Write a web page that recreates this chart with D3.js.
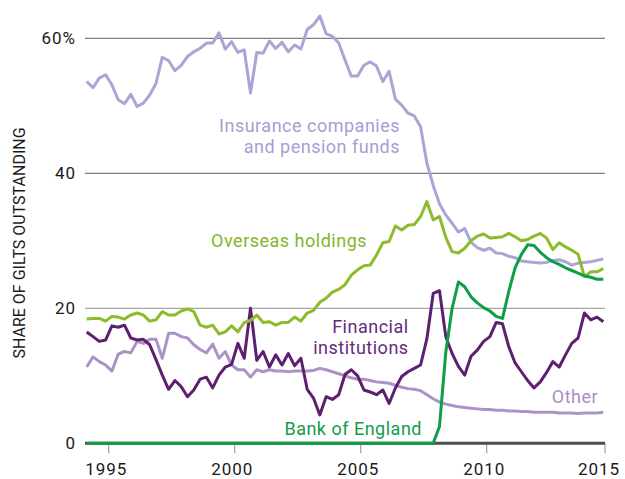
<!DOCTYPE html>
<html>
<head>
<meta charset="utf-8">
<script src="https://cdn.jsdelivr.net/npm/d3@7"></script>
<style>
  body { margin: 0; background: #fff; }
  svg text { font-family: Roboto, "Liberation Sans", sans-serif; }
</style>
</head>
<body>
<svg id="chart" width="625" height="479"></svg>
<script>
/* quarterly shares of gilts outstanding, 1994 Q1 .. 2014 Q3 (mid-quarter) */
const firstQuarter = 1994.125;

const insurance = [
  53.6, 52.7, 54.1, 54.6, 53.1, 50.9, 50.3, 51.7, 49.9, 50.4,
  51.6, 53.3, 57.2, 56.7, 55.2, 56.0, 57.3, 58.0, 58.5, 59.3,
  59.3, 60.8, 58.4, 59.5, 57.9, 58.3, 51.9, 57.9, 57.8, 59.6,
  58.5, 59.4, 58.0, 59.0, 58.4, 61.3, 62.0, 63.3, 60.7, 60.3,
  59.3, 56.8, 54.4, 54.4, 56.0, 56.5, 55.9, 53.6, 55.1, 51.0,
  50.1, 48.9, 48.5, 46.9, 41.5, 38.2, 35.5, 33.8, 32.6, 31.3,
  31.8, 29.8, 29.0, 28.6, 28.9, 28.2, 28.1, 27.7, 27.5, 27.0,
  26.9, 26.8, 26.7, 26.8, 27.1, 27.2, 26.9, 26.4, 26.7, 26.8,
  26.9, 27.1, 27.3
];

const overseas = [
  18.4, 18.5, 18.5, 18.1, 18.8, 18.7, 18.4, 19.0, 19.3, 19.0,
  18.1, 18.3, 19.5, 19.0, 19.0, 19.6, 19.9, 19.5, 17.5, 17.2,
  17.5, 16.2, 16.5, 17.4, 16.5, 17.9, 18.2, 19.0, 17.9, 18.0,
  17.5, 17.9, 17.9, 18.7, 18.1, 19.3, 19.7, 20.9, 21.5, 22.4,
  22.8, 23.5, 24.9, 25.7, 26.3, 26.4, 27.9, 29.7, 29.9, 32.2,
  31.6, 32.3, 32.4, 33.6, 35.8, 33.1, 33.6, 30.5, 28.4, 28.2,
  28.9, 30.0, 30.7, 31.0, 30.4, 30.5, 30.6, 31.1, 30.6, 30.0,
  30.2, 30.7, 31.1, 30.4, 28.7, 29.7, 29.1, 28.6, 28.0, 24.7,
  25.4, 25.4, 25.9
];

const financial = [
  16.5, 15.8, 15.1, 15.3, 17.4, 17.2, 17.5, 15.6, 15.3, 15.4,
  14.6, 12.4, 10.1, 8.0, 9.3, 8.4, 6.9, 7.9, 9.5, 9.8,
  8.2, 10.1, 11.3, 11.7, 14.8, 12.6, 20.0, 12.3, 13.6, 11.3,
  13.1, 11.6, 13.3, 11.5, 12.6, 8.0, 6.7, 4.2, 6.9, 6.5,
  7.2, 10.2, 10.9, 10.0, 7.9, 7.6, 7.2, 7.9, 5.9, 8.2,
  9.9, 10.6, 11.1, 11.6, 15.5, 22.2, 22.6, 15.8, 13.3, 11.4,
  10.1, 12.9, 13.8, 15.1, 15.8, 17.9, 17.7, 14.3, 11.9, 10.6,
  9.3, 8.2, 9.1, 10.5, 12.1, 11.3, 13.1, 14.8, 15.6, 19.3,
  18.3, 18.7, 18.0
];

const other = [
  11.3, 12.8, 12.1, 11.6, 10.7, 13.2, 13.6, 13.4, 15.1, 14.8,
  15.4, 15.4, 12.6, 16.3, 16.3, 15.8, 15.6, 14.6, 13.9, 13.4,
  14.7, 12.6, 13.6, 11.6, 10.9, 10.9, 9.8, 10.9, 10.6, 10.9,
  10.7, 10.7, 10.6, 10.7, 10.7, 10.7, 10.8, 11.1, 10.9, 10.6,
  10.3, 10.0, 9.7, 9.5, 9.5, 9.3, 9.1, 9.0, 8.9, 8.6,
  8.3, 8.1, 8.0, 7.8, 7.2, 6.6, 6.1, 5.8, 5.6, 5.4,
  5.3, 5.2, 5.1, 5.0, 5.0, 4.9, 4.9, 4.8, 4.8, 4.7,
  4.7, 4.6, 4.6, 4.6, 4.6, 4.5, 4.5, 4.5, 4.4, 4.5,
  4.5, 4.5, 4.6
];

const bankOfEngland = [
  0, 0, 0, 0, 0, 0, 0, 0, 0, 0,
  0, 0, 0, 0, 0, 0, 0, 0, 0, 0,
  0, 0, 0, 0, 0, 0, 0, 0, 0, 0,
  0, 0, 0, 0, 0, 0, 0, 0, 0, 0,
  0, 0, 0, 0, 0, 0, 0, 0, 0, 0,
  0, 0, 0, 0, 0, 0, 2.5, 13.5, 20.0, 23.9,
  23.2, 21.7, 20.8, 20.1, 19.6, 18.8, 18.5, 22.5, 26.0, 28.0,
  29.4, 29.3, 28.3, 27.5, 26.9, 26.5, 26.0, 25.6, 25.2, 24.8,
  24.6, 24.3, 24.3
];

const yTicks = [0, 20, 40, 60];
const xTicks = [1995, 2000, 2005, 2010, 2015];

const svg = d3.select('#chart');

const lastQuarter = firstQuarter + (insurance.length - 1) * 0.25;
const x = d3.scaleLinear().domain([firstQuarter, lastQuarter]).range([86.7, 603.3]);
const y = d3.scaleLinear().domain([0, 60]).range([443.3, 38.3]);
const axisLeft = 85, axisRight = 605;

/* gridlines */
svg.append('g')
  .selectAll('line')
  .data(yTicks.filter(d => d > 0))
  .enter().append('line')
  .attr('x1', axisLeft).attr('x2', axisRight)
  .attr('y1', d => y(d)).attr('y2', d => y(d))
  .attr('stroke', d => d === 20 ? '#a6a6a6' : '#808080')
  .attr('stroke-width', 1.2);

/* y tick labels */
svg.append('g')
  .selectAll('text')
  .data(yTicks)
  .enter().append('text')
  .attr('x', 76)
  .attr('y', d => y(d))
  .attr('dy', '0.36em')
  .attr('text-anchor', 'end')
  .attr('font-size', 17)
  .attr('letter-spacing', 1)
  .attr('fill', '#1a1a1a')
  .text(d => d === 60 ? '60%' : d);

/* x axis: last tick sits at the axis end */
const tickX = d => d === 2015 ? axisRight : x(d);
svg.append('g')
  .selectAll('line')
  .data(xTicks)
  .enter().append('line')
  .attr('x1', tickX).attr('x2', tickX)
  .attr('y1', y(0)).attr('y2', y(0) + 10)
  .attr('stroke', '#8c8c8c')
  .attr('stroke-width', 1);

// labels sit a little left of their ticks; the last one is pulled in from the edge
svg.append('g')
  .selectAll('text')
  .data(xTicks)
  .enter().append('text')
  .attr('x', d => d === 2015 ? axisRight - 6 : tickX(d) - 2.5)
  .attr('y', 475)
  .attr('text-anchor', 'middle')
  .attr('font-size', 17)
  .attr('letter-spacing', 1)
  .attr('fill', '#1a1a1a')
  .text(d => d);

svg.append('line')
  .attr('x1', axisLeft).attr('x2', axisRight)
  .attr('y1', y(0)).attr('y2', y(0))
  .attr('stroke', '#4d4d4d')
  .attr('stroke-width', 3);

/* y axis title */
svg.append('text')
  .attr('transform', 'translate(25,243) rotate(-90)')
  .attr('text-anchor', 'middle')
  .attr('font-size', 16)
  .attr('fill', '#1a1a1a')
  .text('SHARE OF GILTS OUTSTANDING');

/* series */
const series = [
  { name: 'other', values: other, color: '#ab93c7' },
  { name: 'insurance', values: insurance, color: '#a9a6d6' },
  { name: 'financial', values: financial, color: '#5d1f70' },
  { name: 'overseas', values: overseas, color: '#8cbb2c' },
  { name: 'boe', values: bankOfEngland, color: '#0f9d45' }
];

const line = d3.line()
  .x((d, i) => x(firstQuarter + i * 0.25))
  .y(d => y(d));

svg.append('g')
  .selectAll('path')
  .data(series)
  .enter().append('path')
  .attr('d', s => line(s.values))
  .attr('fill', 'none')
  .attr('stroke', s => s.color)
  .attr('stroke-width', 3)
  .attr('stroke-linejoin', 'round');

/* direct labels, anchored in data units */
const labels = [
  { lines: ['Insurance companies', 'and pension funds'], year: 2006.56, value: 46.1, color: '#a3a0d2' },
  { lines: ['Overseas holdings'], year: 2005.25, value: 29.1, color: '#86b52a' },
  { lines: ['Financial', 'institutions'], year: 2006.9, value: 16.3, color: '#672a7c' },
  { lines: ['Other'], year: 2014.42, value: 5.9, color: '#a88fc4' },
  { lines: ['Bank of England'], year: 2007.43, value: 1.2, color: '#139c47' }
];

labels.forEach(l => {
  const t = svg.append('text')
    .attr('x', x(l.year))
    .attr('y', y(l.value))
    .attr('text-anchor', 'end')
    .attr('font-size', 18)
    .attr('letter-spacing', 0.5)
    .attr('fill', l.color);
  l.lines.forEach((s, i) => {
    t.append('tspan')
      .attr('x', x(l.year))
      .attr('dy', i === 0 ? 0 : 20.5)
      .text(s);
  });
});
</script>
</body>
</html>
